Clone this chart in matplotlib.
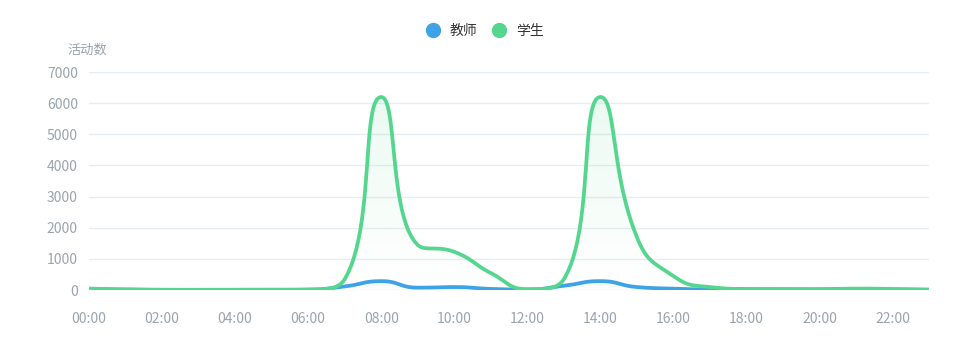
import numpy as np
import matplotlib
matplotlib.use("Agg")
import matplotlib.pyplot as plt
from matplotlib.lines import Line2D

plt.rcParams['font.family'] = ['Noto Sans CJK SC', 'DejaVu Sans']

# data (hourly activity counts)
hours = list(range(24))
hour_labels = ["%02d:00" % h for h in hours]
teacher = [20, 15, 10, 10, 10, 10, 15, 120, 290, 80, 100, 40, 20, 140, 290, 100, 50, 20, 20, 20, 25, 40, 20, 10]
student = [50, 30, 10, 10, 10, 10, 20, 350, 6200, 1450, 1230, 550, 30, 350, 6200, 1700, 450, 100, 40, 40, 30, 50, 40, 20]
series_names = ["教师", "学生"]

blue = "#3ea3e6"
green = "#55d68e"
grid_c = "#e6edf2"
label_c = "#9aa4ad"

# pixel scale of the axes, used so the smoothing behaves like echarts
PX_X = 840 / 23.0
PX_Y = 218 / 7000.0


def smooth(xv, yv, smooth=0.5, n=24):
    # echarts-style bezier smoothing with clamped control points
    px = np.asarray(xv, float) * PX_X
    py = np.asarray(yv, float) * PX_Y
    npts = len(px)
    cps = []  # (cp_in, cp_out) for every point
    for i in range(npts):
        x, y = px[i], py[i]
        if i == 0 or i == npts - 1:
            cps.append(((x, y), (x, y)))
            continue
        prevX, prevY = px[i - 1], py[i - 1]
        nextX, nextY = px[i + 1], py[i + 1]
        vx, vy = nextX - prevX, nextY - prevY
        lp = np.hypot(x - prevX, y - prevY)
        ln = np.hypot(nextX - x, nextY - y)
        r = ln / (ln + lp)
        ncx = x + vx * smooth * r
        ncy = y + vy * smooth * r
        ncx = min(max(ncx, min(nextX, x)), max(nextX, x))
        ncy = min(max(ncy, min(nextY, y)), max(nextY, y))
        vx, vy = ncx - x, ncy - y
        cx = x - vx * lp / ln
        cy = y - vy * lp / ln
        cx = min(max(cx, min(prevX, x)), max(prevX, x))
        cy = min(max(cy, min(prevY, y)), max(prevY, y))
        vx, vy = x - cx, y - cy
        ncx = x + vx * ln / lp
        ncy = y + vy * ln / lp
        cps.append(((cx, cy), (ncx, ncy)))
    xs, ys = [], []
    t = np.linspace(0, 1, n, endpoint=False)
    for i in range(npts - 1):
        p0 = (px[i], py[i])
        p1 = cps[i][1]
        p2 = cps[i + 1][0]
        p3 = (px[i + 1], py[i + 1])
        a = (1 - t) ** 3
        b = 3 * (1 - t) ** 2 * t
        c = 3 * (1 - t) * t ** 2
        d = t ** 3
        xs.append(a * p0[0] + b * p1[0] + c * p2[0] + d * p3[0])
        ys.append(a * p0[1] + b * p1[1] + c * p2[1] + d * p3[1])
    xs.append([px[-1]])
    ys.append([py[-1]])
    return np.concatenate(xs) / PX_X, np.concatenate(ys) / PX_Y


def grad_fill(ax, xs, ys, color, alpha_top):
    poly = ax.fill_between(xs, ys, 0, color="none", lw=0)
    rgb = matplotlib.colors.to_rgb(color)
    img = np.zeros((100, 1, 4))
    img[:, 0, :3] = rgb
    img[:, 0, 3] = np.linspace(0, alpha_top, 100)
    ymax = max(ys)
    im = ax.imshow(img, extent=[xs[0], xs[-1], 0, ymax], origin="lower",
                   aspect="auto", zorder=1)
    path = poly.get_paths()[0]
    im.set_clip_path(path, transform=ax.transData)


fig = plt.figure(figsize=(9.78, 3.6), dpi=100)
ax = fig.add_axes([0.091, 0.194, 0.859, 0.606])

xs_t, ys_t = smooth(hours, teacher)
xs_s, ys_s = smooth(hours, student)

grad_fill(ax, xs_t, ys_t, blue, 0.12)
grad_fill(ax, xs_s, ys_s, green, 0.12)
ax.plot(xs_t, ys_t, color=blue, lw=2.7, zorder=3, solid_capstyle="round")
ax.plot(xs_s, ys_s, color=green, lw=2.7, zorder=4, solid_capstyle="round")

ax.set_xlim(0, 23)
ax.set_ylim(0, 7000)
ax.set_yticks(range(0, 7001, 1000))
ax.set_xticks(hours[::2])
ax.set_xticklabels(hour_labels[::2])
ax.grid(axis="y", color=grid_c, lw=1)
ax.set_axisbelow(True)
for s in ax.spines.values():
    s.set_visible(False)
ax.tick_params(length=0, colors=label_c, labelsize=10)
ax.tick_params(axis="x", pad=16)
ax.tick_params(axis="y", pad=8)

fig.text(0.069, 0.85, "活动数", color=label_c, fontsize=9.5)

handles = [Line2D([], [], marker="o", ls="", ms=10, color=blue),
           Line2D([], [], marker="o", ls="", ms=10, color=green)]
fig.legend(handles, series_names, loc="center", bbox_to_anchor=(0.495, 0.915),
           ncol=2, frameon=False, fontsize=10, handlelength=1.2,
           handletextpad=0.6, columnspacing=1.0, labelcolor="#333333")

fig.savefig("out.png", dpi=100, facecolor="white")
